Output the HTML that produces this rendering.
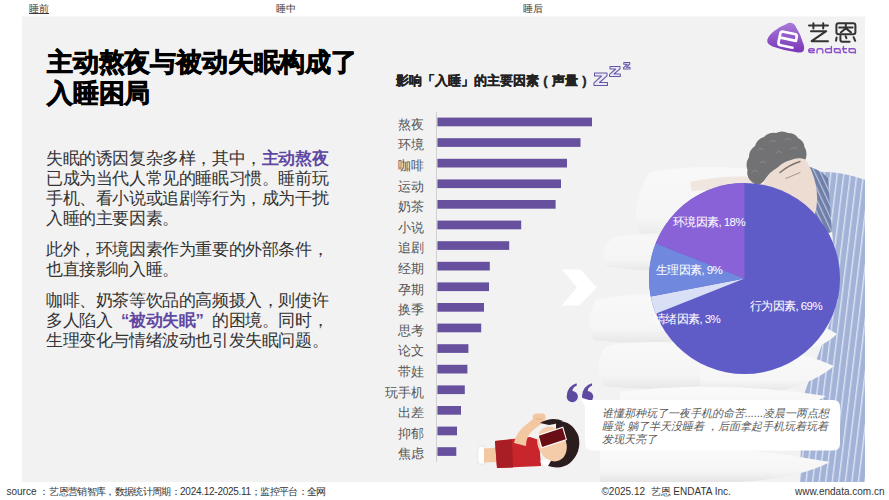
<!DOCTYPE html>
<html>
<head>
<meta charset="utf-8">
<style>
*{margin:0;padding:0;box-sizing:border-box;}
html,body{width:889px;height:500px;overflow:hidden;background:#fff;font-family:"Liberation Sans",sans-serif;color:#333;}
#g{position:absolute;left:0;top:0;}
.t{position:absolute;white-space:nowrap;}
#tabs div{position:absolute;top:3px;font-size:10px;color:#3a3a3a;line-height:12px;}
#title{position:absolute;left:47px;top:47px;-webkit-text-stroke:0.7px #000;font-size:26px;font-weight:bold;line-height:31px;color:#000;letter-spacing:-0.17px;white-space:nowrap;}
#body{position:absolute;left:46px;top:149.2px;width:284px;font-size:16.6px;line-height:20px;color:#333;letter-spacing:-0.4px;}
#body p{margin-bottom:11.3px;}
#body p.p2{margin-bottom:10.5px;}
#body b{color:#5f48a2;}
.q{display:inline-block;width:16.6px;}
.pp{display:inline-block;width:13px;text-align:center;}
#ctitle{position:absolute;left:396px;top:72px;font-size:13px;font-weight:bold;color:#222;-webkit-text-stroke:0.3px #222;line-height:18px;white-space:nowrap;}
.lbl{position:absolute;left:364px;width:60px;text-align:right;font-size:13px;color:#555;line-height:18px;}
.pl{position:absolute;font-size:11.5px;letter-spacing:-0.6px;color:#fff;line-height:14px;white-space:nowrap;}
#quote{position:absolute;left:602px;top:406.5px;font-size:11px;line-height:13px;color:#5a5a5a;font-style:italic;white-space:nowrap;}
#footer div{position:absolute;top:486px;font-size:10px;color:#333;line-height:12px;white-space:nowrap;}
</style>
</head>
<body>
<div id="tabs">
<div style="left:29px;text-decoration:underline;">睡前</div>
<div style="left:276px;">睡中</div>
<div style="left:523px;">睡后</div>
</div>

<svg id="g" width="889" height="500" viewBox="0 0 889 500">
<defs>
<pattern id="stripe" width="6.5" height="40" patternUnits="userSpaceOnUse" patternTransform="rotate(7)">
<rect width="6.5" height="40" fill="#a3b3d7"/>
<rect x="0" width="1.4" height="40" fill="#dbe3f2"/>
</pattern>
<linearGradient id="lg" x1="0" y1="0" x2="0" y2="1">
<stop offset="0" stop-color="#a77ad8"/>
<stop offset="1" stop-color="#7a36b8"/>
</linearGradient>
<pattern id="stripe2" width="5" height="40" patternUnits="userSpaceOnUse" patternTransform="rotate(-25)"><rect width="5" height="40" fill="#6f7fa8"/><rect width="1.2" height="40" fill="#b9c4de"/></pattern>
<linearGradient id="pw" x1="0" y1="0" x2="0" y2="1"><stop offset="0" stop-color="#fafafa"/><stop offset="0.7" stop-color="#f6f6f6"/><stop offset="1" stop-color="#e4e4e4"/></linearGradient>
<clipPath id="pc"><rect x="22" y="17" width="843" height="465"/></clipPath>
</defs>
<rect x="22" y="16.5" width="843" height="465.6" fill="#f2f2f2"/>
<g clip-path="url(#pc)">
<!-- photo: shirt -->
<path d="M812 172 Q838 170 866 180 L866 482 L800 482 L802 400 L838 300 L832 230 Z" fill="url(#stripe)"/>
<!-- pillows -->
<g>
<path d="M650 172 Q710 162 770 172 L795 200 L770 238 Q700 244 640 236 Q628 204 650 172 Z" fill="url(#pw)" opacity="0.8"/>
<path d="M612 238 Q650 230 700 236 L700 268 Q650 274 606 266 Q598 252 612 238 Z" fill="url(#pw)" opacity="0.7"/>
<path d="M596 300 Q640 290 690 298 L690 340 Q640 346 594 340 Q584 320 596 300 Z" fill="url(#pw)" opacity="0.8"/>
<path d="M606 346 Q650 338 700 346 L700 386 Q650 392 604 386 Q592 366 606 346 Z" fill="url(#pw)" opacity="0.8"/>
<path d="M770 316 Q808 316 837 334 Q818 352 780 358 Z" fill="url(#pw)"/>
<path d="M700 346 Q780 342 834 366 Q808 388 760 394 L700 392 Z" fill="url(#pw)"/>
<path d="M620 392 Q720 380 826 396 Q800 412 770 414 L620 414 Z" fill="url(#pw)"/>
<path d="M600 450 Q700 438 830 462 Q800 478 740 482 L600 482 Z" fill="url(#pw)"/>
</g>
<!-- arm -->
<path d="M690 182 Q725 175 755 177 L762 186 Q725 189 692 191 Z" fill="#efe6df"/>
<!-- collar -->
<path d="M806 166 Q818 168 828 178 L832 232 Q822 236 814 226 Q816 198 806 166 Z" fill="url(#stripe2)"/>
<!-- face -->
<path d="M767 177 Q775 168 784 163 Q795 157 805 159 Q813 170 816 186 Q819 203 814 218 L758 218 Q757 192 767 177 Z" fill="#ecdcd2"/>
<path d="M780 172.5 Q789 165 800 161.5" fill="none" stroke="#7d7471" stroke-width="1.5" stroke-linecap="round"/>
<path d="M786 178.5 Q793 175.5 800 172.5" fill="none" stroke="#a0958f" stroke-width="1" stroke-linecap="round"/>
<!-- hair -->
<path d="M752 182 Q746 177 747.5 170 Q745 163 749 157 Q749 150 755 146 Q757 139 764 137 Q769 132 776 133 Q782 130 788 133 Q795 133 798 138 Q804 141 804.5 147 Q808 152 805.5 159.5 Q798 157 791 160 Q783 162 777 168 Q770 172 766 178 Q762 185 756 184.5 Z" fill="#727274"/>
<g fill="none" stroke="#8a8a8c" stroke-width="1" stroke-linecap="round">
<path d="M758 150 q3 -3 6 0"/><path d="M770 142 q3 -3 6 0"/><path d="M785 140 q3 -3 6 0"/><path d="M760 163 q3 -3 6 0"/><path d="M776 153 q3 -3 6 0"/><path d="M791 149 q3 -3 6 0"/><path d="M752 172 q3 -3 6 0"/>
</g>
<!-- chevron -->
<path d="M562 269.4 L580.6 269.4 L596.8 287.4 L579.4 305.4 L561.4 305.4 L577 287.4 Z" fill="#fff"/>
</g>

<!-- bars -->
<rect x="436" y="112" width="1" height="350" fill="#d0d0d0"/>
<rect x="437.4" y="117.6" width="154.6" height="8.7" fill="#67519f"/>
<rect x="437.4" y="138.2" width="143.1" height="8.7" fill="#67519f"/>
<rect x="437.4" y="158.8" width="129.6" height="8.7" fill="#67519f"/>
<rect x="437.4" y="179.4" width="123.6" height="8.7" fill="#67519f"/>
<rect x="437.4" y="200" width="118.2" height="8.7" fill="#67519f"/>
<rect x="437.4" y="220.6" width="83.8" height="8.7" fill="#67519f"/>
<rect x="437.4" y="241.2" width="71.8" height="8.7" fill="#67519f"/>
<rect x="437.4" y="261.8" width="52.4" height="8.7" fill="#67519f"/>
<rect x="437.4" y="282.4" width="51.6" height="8.7" fill="#67519f"/>
<rect x="437.4" y="303" width="46.6" height="8.7" fill="#67519f"/>
<rect x="437.4" y="323.6" width="43.8" height="8.7" fill="#67519f"/>
<rect x="437.4" y="344.2" width="31" height="8.7" fill="#67519f"/>
<rect x="437.4" y="364.8" width="30" height="8.7" fill="#67519f"/>
<rect x="437.4" y="385.4" width="27.4" height="8.7" fill="#67519f"/>
<rect x="437.4" y="406" width="23.6" height="8.7" fill="#67519f"/>
<rect x="437.4" y="426.6" width="19.6" height="8.7" fill="#67519f"/>
<rect x="437.4" y="447.2" width="18.9" height="8.7" fill="#67519f"/>

<!-- pie -->
<circle cx="744.5" cy="278.5" r="95.5" fill="#5f5cc8"/>
<path d="M744.5 278.5 L655.71 313.66 A95.5 95.5 0 0 1 650.69 296.39 Z" fill="#d9dff5"/>
<path d="M744.5 278.5 L650.69 296.39 A95.5 95.5 0 0 1 655.71 243.34 Z" fill="#7088de"/>
<path d="M744.5 278.5 L655.71 243.34 A95.5 95.5 0 0 1 744.5 183 Z" fill="#8a62d7"/>

<!-- quote mark -->
<g fill="#5e4aa0">
<circle cx="572.3" cy="396.6" r="5.6"/><path d="M566.8 397.5 Q566.1 386.5 576.5 383.3 L576.9 385.6 Q571.8 388 572.5 392 Z"/>
<circle cx="587.6" cy="396.6" r="5.6"/><path d="M582.1 397.5 Q581.4 386.5 591.8 383.3 L592.2 385.6 Q587.1 388 587.8 392 Z"/>
</g>
<!-- bubble -->
<path d="M592 400 L833 400 Q840 400 840 407 L840 443.5 Q840 450.5 833 450.5 L592 450.5 Q585 450.5 585 443.5 L585 407 L580.5 397.5 L589 400 Z" fill="#fff"/>

<!-- girl -->
<g>
<path d="M478.5 446 Q476 455 478.5 464 L485 464 L485 446.5 Z" fill="#fff" stroke="#d9d9d9" stroke-width="0.6"/>
<path d="M484 448.5 L498 447.5 L498 462 L484 462.5 Z" fill="#f3c7a2"/>
<path d="M495 441 L530 437 L539 440 L541 466 L497 468 Z" fill="#c8262c"/>
<path d="M495 441 L512 439.5 L513 467.5 L497 468 Z" fill="#a81e24"/>
<path d="M514 443 Q516 432 527 424 L533 419 Q531 414 537 413.5 L543 413.5 Q547 415 545 420 L541 424 L532 431 Q526 437 526 446 Z" fill="#f3c7a2"/>
<path d="M536 419 L542 419" stroke="#e0a985" stroke-width="0.7"/>
<path d="M540 461 Q545 469 552 467 L548 459 Z" fill="#fff"/>
<path d="M556 421 Q572 420 578.5 436 Q582 452 570 463 Q561 470 548 466 Q556 455 556 440 Z" fill="#2b1c1d"/>
<ellipse cx="552" cy="444" rx="14" ry="18" fill="#f5ccaa" transform="rotate(-25 552 444)"/>
<path d="M540 423 Q552 416 563 421 Q556 424 549 425 Z" fill="#2b1c1d"/>
<path d="M537.5 435.1 L563.2 426.6 L567 439.9 L541.3 448.4 Z" fill="#fff"/>
<path d="M538.8 435.7 L562.4 428 L565.8 439.3 L542.1 447 Z" fill="#6a0e15"/>
</g>
<!-- zzz -->
<g fill="#ebe8f6" stroke="#6258a6" stroke-width="1.05" stroke-linejoin="round">
<path d="M594.5 73 L607 73 L607 75.8 L599.5 82.5 L607.5 82.5 L607.5 85.5 L594 85.5 L594 82.8 L601.5 76 L594.5 76 Z"/>
<path d="M610 66.5 L620 66.5 L620 68.8 L614 74 L620.3 74 L620.3 76.5 L609.6 76.5 L609.6 74.3 L615.6 69 L610 69 Z"/>
<path d="M623.8 62.5 L629.8 62.5 L629.8 64 L626.2 67.3 L630 67.3 L630 69 L623.6 69 L623.6 67.6 L627.2 64.3 L623.8 64.3 Z"/>
</g>

<!-- logo mark -->
<path d="M786 24.3 Q791 21 795 25.3 Q800.5 34 803.8 45 Q806 53 798 52.6 Q785 51 772.5 46.5 Q766.5 44.2 767.3 39.6 Q768.5 35.5 774.5 30.8 Q780 26.5 786 24.3 Z" fill="url(#lg)"/>
<path d="M-8.4 -0.5 H8.4 V-4.2 Q8.4 -6.9 5.7 -6.9 H-5.7 Q-8.4 -6.9 -8.4 -4.2 V4.2 Q-8.4 6.9 -5.7 6.9 H6.5" transform="translate(787.6 39.6) rotate(12)" fill="none" stroke="#fff" stroke-width="2.6" stroke-linecap="round" stroke-linejoin="round"/>
<g fill="none" stroke="#333" stroke-width="2" stroke-linecap="round" stroke-linejoin="round">
<path d="M809 25.6 H828 M813.4 23.2 V28.6 M823.2 23.2 V28.6 M811 31.2 H826.2 L811.6 41.2 H828"/>
<rect x="836.4" y="23.2" width="19" height="11" rx="2.2"/>
<path d="M839.2 27.6 H852.6 M845.8 24.2 V28.2 L840.8 32.4 M845.8 28.2 L851 32.4 M836.6 37.6 L836 40.8 M840.4 36 V39.8 Q840.4 41.8 842.4 41.8 H849.6 M845.6 36.2 L846.4 38.2 M853.6 37.2 L855.2 40.8"/>
</g>
<g fill="none" stroke="#8b4fc7" stroke-width="1.35" stroke-linecap="round" stroke-linejoin="round">
<path d="M808.7 50.6 H814.4 V50.3 Q814.4 48.7 812.6 48.7 H810.5 Q808.7 48.7 808.7 50.6 Q808.7 52.5 810.5 52.5 H814.2"/>
<path d="M817 53 V50.5 Q817 48.7 818.8 48.7 H821 Q822.8 48.7 822.8 50.5 V53"/>
<path d="M831.4 46.3 V52.5 H827.2 Q825.4 52.5 825.4 50.6 Q825.4 48.7 827.2 48.7 H831.4"/>
<path d="M834.3 48.7 H838.4 Q840.2 48.7 840.2 50.5 V53 M840.2 52.5 H836.1 Q834.3 52.5 834.3 50.6 Q834.3 48.7 836.1 48.7"/>
<path d="M843.4 46.4 V51 Q843.4 52.5 845 52.5 H846.6 M842.4 48.7 H846.4"/>
<path d="M849 48.7 H853.6 Q855.4 48.7 855.4 50.5 V53 M855.4 52.5 H850.8 Q849 52.5 849 50.6 Q849 48.7 850.8 48.7"/>
</g>
</svg>


<div id="title">主动熬夜与被动失眠构成了<br>入睡困局</div>

<div id="body">
<p>失眠的诱因复杂多样，其中，<b>主动熬夜</b>已成为当代人常见的睡眠习惯。睡前玩手机、看小说或追剧等行为，成为干扰入睡的主要因素。</p>
<p class="p2">此外，环境因素作为重要的外部条件，也直接影响入睡。</p>
<p>咖啡、奶茶等饮品的高频摄入，则使许多人陷入<b><span class="q" style="text-align:right">“</span>被动失眠<span class="q">”</span></b>的困境。同时，生理变化与情绪波动也引发失眠问题。</p>
</div>

<div id="ctitle">影响「入睡」的主要因素<span class="pp">(</span>声量<span class="pp">)</span></div>
<div class="lbl" style="top:115.8px">熬夜</div>
<div class="lbl" style="top:136.4px">环境</div>
<div class="lbl" style="top:157px">咖啡</div>
<div class="lbl" style="top:177.6px">运动</div>
<div class="lbl" style="top:198.2px">奶茶</div>
<div class="lbl" style="top:218.8px">小说</div>
<div class="lbl" style="top:239.4px">追剧</div>
<div class="lbl" style="top:260px">经期</div>
<div class="lbl" style="top:280.6px">孕期</div>
<div class="lbl" style="top:301.2px">换季</div>
<div class="lbl" style="top:321.8px">思考</div>
<div class="lbl" style="top:342.4px">论文</div>
<div class="lbl" style="top:363px">带娃</div>
<div class="lbl" style="top:383.6px">玩手机</div>
<div class="lbl" style="top:404.2px">出差</div>
<div class="lbl" style="top:424.8px">抑郁</div>
<div class="lbl" style="top:445.4px">焦虑</div>

<div class="pl" style="left:673px;top:215px;">环境因素, 18%</div>
<div class="pl" style="left:656px;top:263px;">生理因素, 9%</div>
<div class="pl" style="left:654px;top:312px;">情绪因素, 3%</div>
<div class="pl" style="left:750px;top:299px;">行为因素, 69%</div>

<div id="quote">谁懂那种玩了一夜手机的命苦......凌晨一两点想<br>睡觉 躺了半天没睡着 ，后面拿起手机玩着玩着<br>发现天亮了</div>

<div id="footer">
<div style="left:6.5px;">source ：<span style="font-size:9.5px;letter-spacing:-0.66px">艺恩营销智库，数据统计周期：</span><span style="letter-spacing:-0.27px">2024.12-2025.11</span><span style="font-size:9.5px;letter-spacing:-0.66px">；监控平台：全网</span></div>
<div style="left:601.5px;">©2025.12&nbsp; 艺恩 ENDATA Inc.</div>
<div style="left:795px;">www.endata.com.cn</div>
</div>
</body>
</html>
